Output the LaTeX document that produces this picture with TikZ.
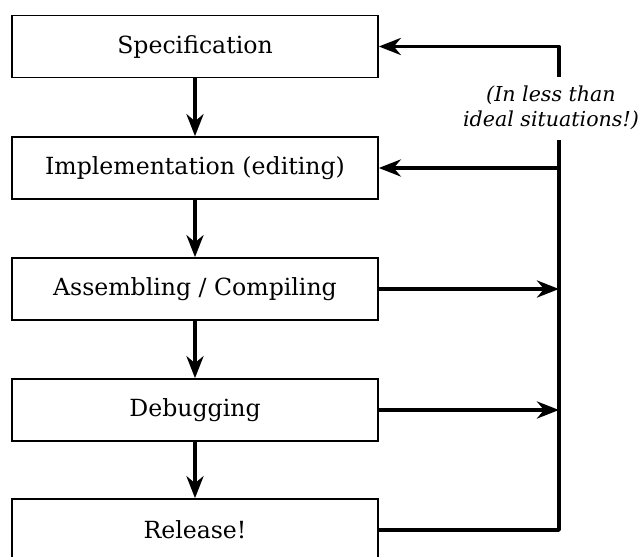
\documentclass[tikz,border=0pt]{standalone}
\usepackage{fontspec}
\setmainfont{DejaVu Serif}
\usetikzlibrary{arrows.meta}
\begin{document}
\begin{tikzpicture}[x=.5pt, y=-.5pt, >={Stealth[length=11pt, width=8.5pt, inset=3.5pt]},
    stage/.style={draw, line width=.8pt, minimum width=183pt, minimum height=31pt,
      inner sep=0pt, font=\fontsize{11.8}{14}\selectfont},
    flow/.style={->, line width=1.9pt}]
  \useasboundingbox (0,0) rectangle (639,557);
  \node [stage] (spec)  at (195,46.5) {Specification};
  \node [stage] (impl)  at (195,168)  {Implementation (editing)};
  \node [stage] (asm)   at (195,289)  {Assembling / Compiling};
  \node [stage] (debug) at (195,410)  {Debugging};
  \node [stage] (rel)   at (195,530)  {Release!};
  \foreach \a/\b in {spec/impl, impl/asm, asm/debug, debug/rel}
    \draw [flow] (\a) -- (\b);
  % feedback loop on the right
  \coordinate (top) at (559,46.5);
  \coordinate (bot) at (559,530);
  \draw [flow, line join=round] (rel.east) -- (bot) -- (top) -- (spec.east);
  \draw [flow] (impl.east -| top) -- (impl.east);
  \draw [flow] (asm.east) -- (asm.east -| top);
  \draw [flow] (debug.east) -- (debug.east -| top);
  \node [fill=white, align=center, inner sep=0pt, minimum height=31.5pt,
    font=\fontsize{10.3}{12.5}\selectfont\itshape] (note) at (551,108)
    {(In less than\\ideal situations!)};
\end{tikzpicture}
\end{document}
